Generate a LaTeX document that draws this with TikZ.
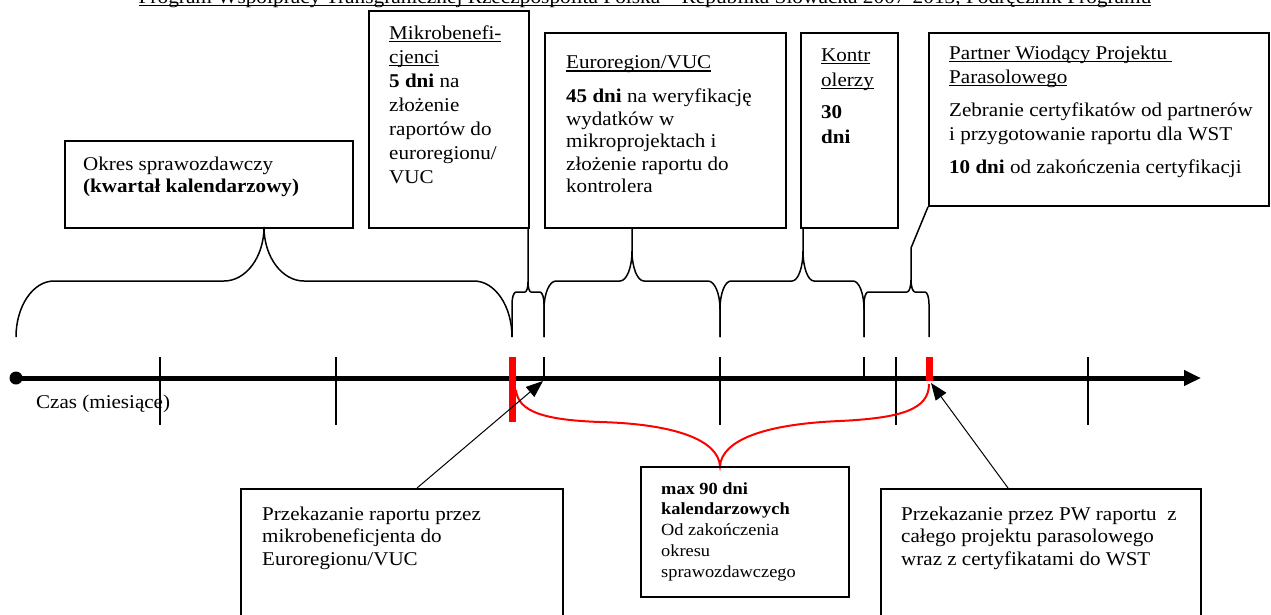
\documentclass[tikz,border=0pt]{standalone}
\usepackage{fontspec}
\setmainfont[FakeStretch=1.08]{Liberation Serif}
\usetikzlibrary{arrows.meta}
\newcommand{\myul}[1]{\setbox0\hbox{#1}\rlap{\rule[-2.8pt]{\wd0}{1.3pt}}\box0}
% brace: L R T H P a b c d  (bottom fixed at 337)
\newcommand{\curlybr}[9]{%
  \draw[br] ({#1},337) -- ({#1},{#4+#7}) .. controls ({#1},{#4+0.448*#7}) and ({#1+0.448*#6},{#4}) .. ({#1+#6},{#4})
     -- ({#3-#8},{#4}) .. controls ({#3-0.448*#8},{#4}) and ({#3},{#4-0.448*#9}) .. ({#3},{#4-#9}) -- ({#3},{#5});
  \draw[br] ({#3},{#4-#9}) .. controls ({#3},{#4-0.448*#9}) and ({#3+0.448*#8},{#4}) .. ({#3+#8},{#4})
     -- ({#2-#6},{#4}) .. controls ({#2-0.448*#6},{#4}) and ({#2},{#4+0.448*#7}) .. ({#2},{#4+#7}) -- ({#2},337);}
\tikzset{
  box/.style={draw, line width=1.8pt, inner sep=0pt, anchor=north west},
  txt/.style={inner sep=0pt, anchor=north west, align=left, font=\fontsize{19.5}{#1}\selectfont},
  txt/.default=22.5,
  br/.style={line width=1.5pt},
  tick/.style={line width=1.5pt},
  redbar/.style={red, line width=7pt},
  ptr/.style={line width=1pt, -{Triangle[length=17pt,width=13pt]}},
}
\begin{document}
\begin{tikzpicture}[x=1pt, y=-1pt]
\useasboundingbox (0,0) rectangle (1271,614);
\clip (0,0) rectangle (1271,614);

% header
\node[inner sep=0pt, anchor=base, font=\fontsize{19.75}{22}\selectfont] (hdr) at (645,3)
  {\myul{Program Współpracy Transgranicznej Rzeczpospolita Polska – Republika Słowacka 2007-2013, Podręcznik Programu}};

% top boxes
\node[box, minimum width=288pt, minimum height=87pt] (okres) at (64,140) {};
\node[box, minimum width=160pt, minimum height=217pt] (mikro) at (368,10) {};
\node[box, minimum width=241pt, minimum height=195pt] (euro) at (544,32) {};
\node[box, minimum width=97pt, minimum height=195pt] (kontr) at (800,32) {};
\node[box, minimum width=340pt, minimum height=173pt] (pw) at (928,32) {};

\node[txt=22] (okres-t) at (83,154.6) {\strut Okres sprawozdawczy\\ \textbf{(kwartał kalendarzowy)}};
\node[txt=24] (mikro-t) at (389,22.4) {\strut\myul{Mikrobenefi-}\\ \myul{cjenci}\\ \textbf{5 dni} na\\ złożenie\\ raportów do\\ euroregionu/\\ VUC};
\node[txt=22.5] (euro-t) at (566,53) {\strut\myul{Euroregion/VUC}\\[11.5pt] \textbf{45 dni} na weryfikację\\ wydatków w\\ mikroprojektach i\\ złożenie raportu do\\ kontrolera};
\node[txt=25] (kontr-t) at (821,43.5) {\strut\myul{Kontr}\\ \myul{olerzy}\\[7pt] \textbf{30}\\ \textbf{dni}};
\node[txt=24] (pw-t) at (949,42.5) {\strut\myul{Partner Wiodący Projektu\ }\\ \myul{Parasolowego}\\[9pt] Zebranie certyfikatów od partnerów\\ i przygotowanie raportu dla WST\\[9pt] \textbf{10 dni} od zakończenia certyfikacji};

% braces
\curlybr{16}{512}{264}{281}{227}{38}{56}{40}{54}
\curlybr{512}{544}{528}{292}{227}{4}{12}{3}{10}
\curlybr{544}{720}{632}{281}{227}{12}{28}{12}{30}
\curlybr{720}{864}{803}{281}{227}{11}{28}{11}{30}
\curlybr{864}{929}{911}{292}{248}{4}{12}{4}{12}
\draw[br] (911,248) -- (pw.south west);

% time axis
\node[circle, fill, minimum size=13pt, inner sep=0pt] (orig) at (16,378) {};
\coordinate (axend) at (1201,378);
\draw[line width=5pt, -{Triangle[length=17pt,width=15pt]}] (orig.center) -- (axend);
\foreach \x in {160,336,720,896,1088} \draw[tick] (\x,357) -- (\x,425);
\foreach \x in {544,864} \draw[tick] (\x,357) -- (\x,378);
\draw[redbar] (512,357) -- (512,422);
\draw[redbar] (929,357) -- (929,381);
\node[inner sep=0pt, anchor=base west, font=\fontsize{19.5}{22}\selectfont] (czas) at (36,408) {Czas (miesiące)};

% red brace
\draw[red, line width=2pt] (516,390) .. controls (518,412) and (545,420) .. (600,422)
   .. controls (675,424) and (718,440) .. (720,466)
   .. controls (722,440) and (765,424) .. (840,421)
   .. controls (900,418) and (929,410) .. (929,384);

% bottom boxes
\node[box, minimum width=322pt, minimum height=160pt] (boxA) at (240,488) {};
\node[box, minimum width=208pt, minimum height=130pt] (boxB) at (640,466) {};
\node[box, minimum width=320pt, minimum height=160pt] (boxC) at (880,488) {};
\node[txt=22.5] (boxA-t) at (262,504.25) {\strut Przekazanie raportu przez\\ mikrobeneficjenta do\\ Euroregionu/VUC};
\node[txt=22.5] (boxC-t) at (901,504.25) {\strut Przekazanie przez PW raportu\ \ z\\ całego projektu parasolowego\\ wraz z certyfikatami do WST};
\node[inner sep=0pt, anchor=north west, align=left, font=\fontsize{17}{20.7}\selectfont] (boxB-t) at (661,479.5)
  {\strut\textbf{max 90 dni}\\ \textbf{kalendarzowych}\\ Od zakończenia\\ okresu\\ sprawozdawczego};

% pointers
\coordinate (tipA) at (543,381);
\coordinate (tipC) at (931,383);
\draw[ptr] ([xshift=177pt]boxA.north west) -- (tipA);
\draw[ptr] ([xshift=128pt]boxC.north west) -- (tipC);
\end{tikzpicture}
\end{document}
